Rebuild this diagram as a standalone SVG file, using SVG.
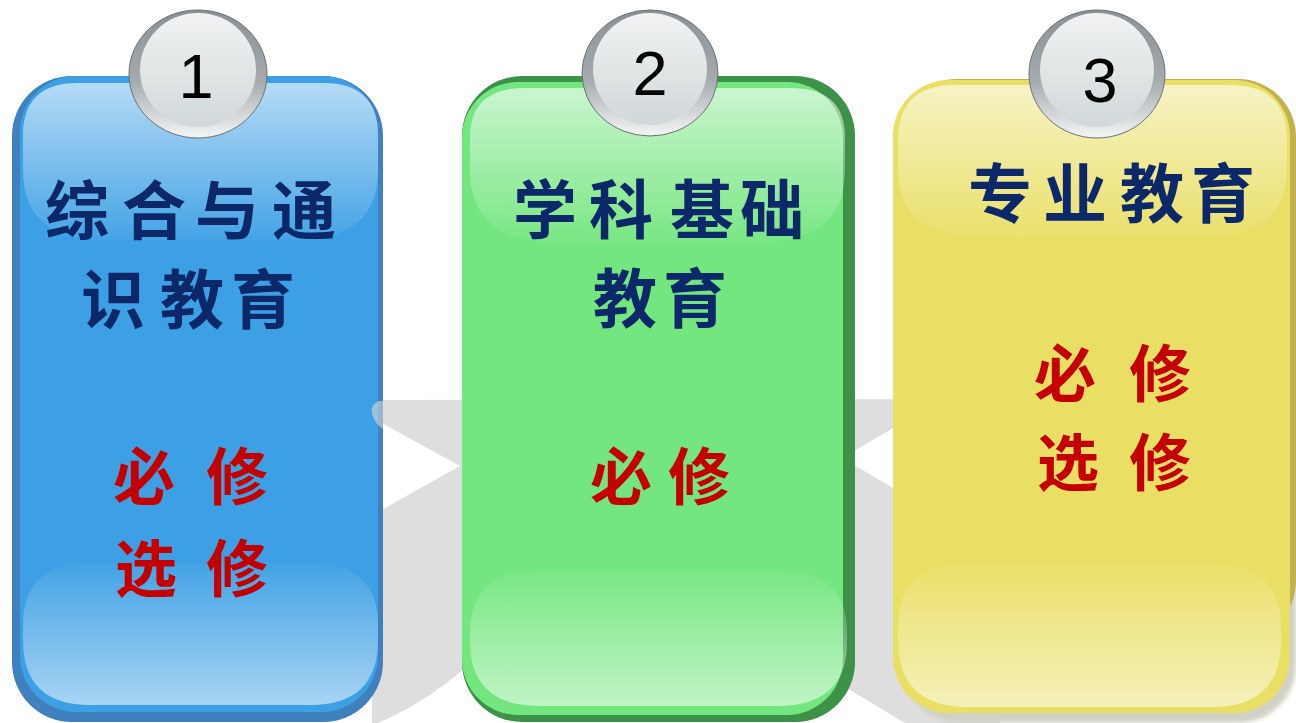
<svg xmlns="http://www.w3.org/2000/svg" width="1296" height="723" viewBox="0 0 1296 723">
<defs>
  <linearGradient id="hlTop" x1="0" y1="0" x2="0" y2="1">
    <stop offset="0" stop-color="#ffffff" stop-opacity="0.62"/>
    <stop offset="1" stop-color="#ffffff" stop-opacity="0.04"/>
  </linearGradient>
  <linearGradient id="hlBot" x1="0" y1="0" x2="0" y2="1">
    <stop offset="0" stop-color="#ffffff" stop-opacity="0.03"/>
    <stop offset="1" stop-color="#ffffff" stop-opacity="0.55"/>
  </linearGradient>
  <linearGradient id="bubOuter" x1="0" y1="0" x2="0" y2="1">
    <stop offset="0" stop-color="#8a9093"/>
    <stop offset="0.55" stop-color="#a4aaad"/>
    <stop offset="1" stop-color="#f4f6f6"/>
  </linearGradient>
  <linearGradient id="bubInner" x1="0" y1="0" x2="0" y2="1">
    <stop offset="0" stop-color="#f1f3f3"/>
    <stop offset="1" stop-color="#d1d8da"/>
  </linearGradient>
  <filter id="soft" x="-10%" y="-10%" width="120%" height="120%">
    <feGaussianBlur stdDeviation="2"/>
  </filter>
</defs>
<style>
  .navy{font-family:"Noto Sans CJK SC","Noto Sans CJK TC",sans-serif;font-weight:700;font-size:64px;fill:#0c2868;text-anchor:middle}
  .red{font-family:"Noto Sans CJK SC","Noto Sans CJK TC",sans-serif;font-weight:700;font-size:62px;fill:#c40000;text-anchor:middle}
  .num{font-family:"Liberation Sans",Arial,sans-serif;font-size:63px;fill:#000;text-anchor:middle}
  .hlT{fill:url(#hlTop)}
  .hlB{fill:url(#hlBot)}
  .bo{fill:url(#bubOuter);stroke:#6a7073;stroke-width:1}
  .bi{fill:url(#bubInner)}
</style>

<g id="background-band">
  <path d="M372 412 Q372 400 386 400 L1000 399 L1000 723 L905 723 L845 687 L466 667 Q425 703 378 723 L372 723 Z" fill="#dedede"/>
  <polygon points="376,420 460,466 376,513" fill="#ffffff"/>
  <polygon points="842,458 900,424 900,492" fill="#ffffff"/>
</g>

<g id="card1">
  <rect x="12" y="76" width="371" height="646" rx="60" fill="#3f80bd"/>
  <rect x="20" y="76" width="358" height="636" rx="56" fill="#3da0e5"/>
  <path class="hlT" d="M23 135 Q23 83 78 83 H323 Q378 83 378 135 V170 Q378 238 300 240 H100 Q23 238 23 170 Z"/>
  <path class="hlB" d="M23 625 Q23 563 90 563 H310 Q378 563 378 625 V640 Q378 705 310 705 H90 Q23 705 23 640 Z"/>
  <text class="navy" x="77 154 227 304" y="234">综合与通</text>
  <text class="navy" x="113 192 263" y="323">识教育</text>
  <text class="red" x="144 190 237" y="500">必 修</text>
  <text class="red" x="146 190 237" y="592">选 修</text>
</g>

<path d="M383 401 L379 401 Q370 404 372 414 Q375 424 383 429 Z" fill="#d8d8d8" fill-opacity="0.6"/>

<g id="card2">
  <rect x="462" y="76" width="393" height="646" rx="60" fill="#3e9148"/>
  <rect x="462" y="82" width="381" height="633" rx="56" fill="#74e67f"/>
  <path class="hlT" d="M470 137 Q470 88 525 88 H790 Q845 88 845 137 V170 Q845 240 765 242 H550 Q470 240 470 170 Z"/>
  <path class="hlB" d="M470 632 Q470 570 540 570 H777 Q847 570 847 632 V642 Q847 706 777 706 H540 Q470 706 470 642 Z"/>
  <text class="navy" x="545 621 702 772" y="233">学科基础</text>
  <text class="navy" x="625 695" y="322">教育</text>
  <text class="red" x="621 699" y="500">必修</text>
</g>

<g id="card3">
  <rect x="902" y="86" width="394" height="637" rx="58" fill="#d2d1c6" filter="url(#soft)"/>
  <rect x="899" y="79" width="397" height="560" rx="58" fill="#c2b14f"/>
  <rect x="893" y="80" width="397" height="633" rx="56" fill="#e9df65"/>
  <path class="hlT" d="M898 140 Q898 85 955 85 H1230 Q1287 85 1287 140 V168 Q1287 236 1207 238 H978 Q898 236 898 168 Z"/>
  <path class="hlB" d="M898 628 Q898 563 968 563 H1212 Q1281 563 1281 628 V640 Q1281 707 1212 707 H968 Q898 707 898 640 Z"/>
  <text class="navy" x="1000 1075 1152 1223" y="217">专业教育</text>
  <text class="red" x="1065 1112 1160" y="397">必 修</text>
  <text class="red" x="1068 1112 1160" y="486">选 修</text>
</g>

<g id="bubble1">
  <ellipse class="bo" cx="198" cy="74" rx="69" ry="64"/>
  <ellipse class="bi" cx="198" cy="70" rx="58" ry="57"/>
  <text class="num" x="196" y="98">1</text>
</g>
<g id="bubble2">
  <ellipse class="bo" cx="650" cy="73" rx="68" ry="63"/>
  <ellipse class="bi" cx="650" cy="69" rx="57" ry="56"/>
  <text class="num" x="650" y="95">2</text>
</g>
<g id="bubble3">
  <ellipse class="bo" cx="1097" cy="74" rx="68" ry="64"/>
  <ellipse class="bi" cx="1097" cy="70" rx="57" ry="57"/>
  <text class="num" x="1100" y="102">3</text>
</g>
</svg>
